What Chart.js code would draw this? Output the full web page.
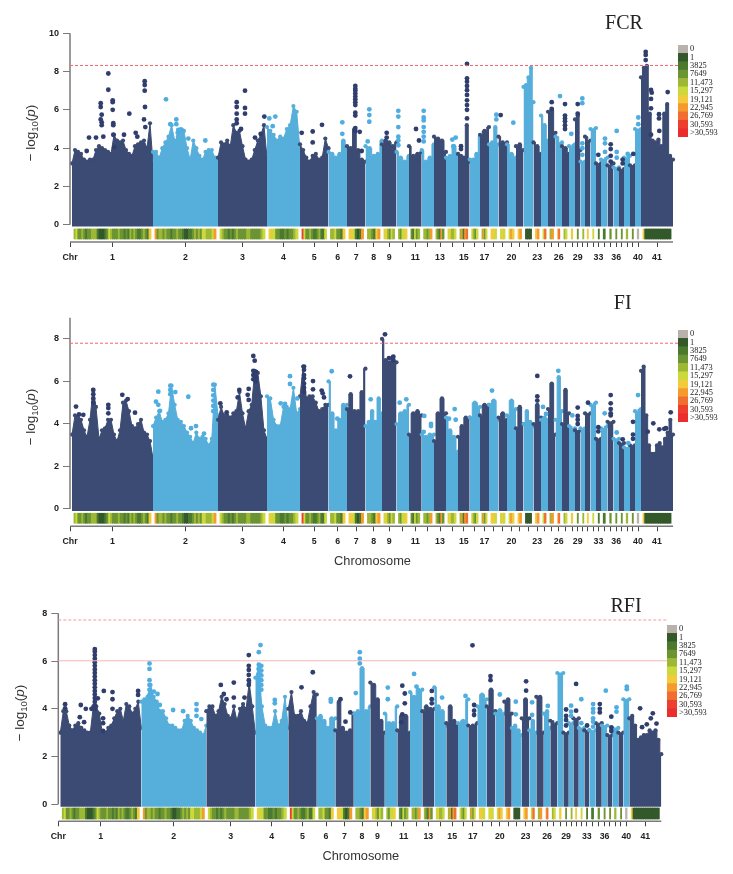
<!DOCTYPE html>
<html>
<head>
<meta charset="utf-8">
<title>Manhattan plots</title>
<script src="https://cdn.jsdelivr.net/npm/chart.js@4"></script>
<style>
html, body { margin: 0; padding: 0; background: #fff; }
body { position: relative; width: 733px; height: 874px; overflow: hidden; }
canvas { position: absolute; }
</style>
</head>
<body>
<canvas id="fcr" width="733" height="280" style="left:0px;top:0px"></canvas>
<canvas id="fi" width="733" height="285" style="left:0px;top:290px"></canvas>
<canvas id="rfi" width="733" height="289" style="left:0px;top:585px"></canvas>
<canvas id="legend1" width="55" height="92" style="left:678px;top:45px"></canvas>
<canvas id="legend2" width="55" height="92" style="left:678px;top:329.5px"></canvas>
<canvas id="legend3" width="55" height="92" style="left:667px;top:625px"></canvas>
<script>
const chromNames = ['1','2','3','4','5','6','7','8','9','10','11','12','13','14','15','16','17','18','19','20','21','22','23','24','25','26','27','28','29','30','31','32','33','34','35','36','37','38','39','40','41'];
const chromLengths = [81,65,49,33,28.5,18.5,18.5,16.5,14.5,12.5,12.7,12.3,12,12,11.7,10.3,9,9.5,8.5,9,7.5,10,7.5,7,7.5,6.5,7,6,5.5,4.5,5.5,5.5,5,6.5,6,5.5,5,6,5,6,32];
const shownLabels = ['1','2','3','4','5','6','7','8','9','11','13','15','17','20','23','26','29','33','36','40','41'];

const legendLabels = ['0','1','3825','7649','11,473','15,297','19,121','22,945','26,769','30,593','>30,593'];
const legendColours = ['#b9b1ab','#33592b','#4b7a2f','#6c9433','#9db835','#cbd93c','#f2cb3b','#f79a2e','#f06e2f','#ee3e2e','#ec2d2d'];

// legend class of each stretch of a chromosome
const densityBins = [
 '4533432334442111235433343323243432234326','7344343323343321122343435544457','5433232343333443333345','6553322323345','9533432234225','4453326','6652127','443267','564354','43556','32534','44347','43273','56445','47278','5435','4735','665','565','576','67','111','67','58','47','78','45','56','3','4','6','5','2','22','3','3','3','4','3','0','6111111111111111'
];

// silhouette of the solid mass, one list per chromosome
const fcrTops = [
 [3.2,3.9,3.8,3.7,3.4,3.3,3.4,3.4,3.9,4.1,4.0,3.9,3.8,3.7,4.7,4.4,4.3,4.4,3.9,3.7,3.6,4.1,4.2,4.3,4.4,4.0,5.3,3.2],
 [3.8,3.8,3.5,4.0,4.3,4.6,5.2,4.4,4.6,5.0,4.9,4.0,3.4,4.4,4.0,3.6,3.4,3.8,3.9,3.9,3.5,3.5],
 [3.5,4.3,4.2,4.4,4.1,5.2,4.8,4.9,4.1,3.4,3.3,3.4,3.9,4.4,4.7,5.2,3.5],
 [5.1,4.9,4.7,4.4,4.6,4.5,5.0,5.2,6.2,5.9,3.9],
 [4.2,3.9,3.5,3.3,3.6,3.7,3.4,3.5,4.5,4.0],
 [3.8,3.7,3.5,3.7,4.4,4.0],[4.1,4.0,5.0,3.9,3.4,3.3],[4.1,4.0,3.6,3.7,4.4],[4.2,4.4,4.3,4.1,4.3],[3.8,3.5,3.3,3.6],
 [4.1,3.6,3.7,3.8],[3.9,3.3,3.5,4.2],[4.6,4.5,4.4,3.8],[3.5,3.6,4.1,3.7],[3.7,3.6,3.5,5.2,3.3],[3.4,3.4,3.7,4.6],
 [4.7,4.9,5.1],[4.2,4.3,5.1,4.2],[4.6,4.3,4.3],[4.2,3.7,3.5],[4.1,4.2,3.9],[7.2,7.3,7.7,8.2,6.4],[4.3,4.1,3.7],
 [5.7,5.2,4.4],[5.9,6.0,4.8],[4.6,4.3],[4.1,4.0,3.7],[4.1,4.2],[5.5,5.7,3.9],[3.3,3.3],[4.6,4.4],[5.0,5.05],[3.2,3.2],
 [3.4,3.5],[3.1,3.2],[3.0,3.0],[2.9,2.9],[3.5,3.6],[3.1,3.1],[5.0,5.0],
 [7.7,8.2,8.3,5.8,4.4,4.3,4.45,4.1,5.8,6.3,3.6,3.4]
];
const fiTops = [
 [3.5,4.4,4.3,4.2,3.7,3.4,4.2,5.6,4.8,3.3,3.7,3.8,4.2,4.2,3.5,3.2,3.7,5.0,5.1,4.6,3.9,3.8,4.0,4.2,3.6,3.5,3.2,2.4],
 [3.9,4.3,4.6,4.1,4.2,4.5,5.8,4.9,4.2,4.1,3.9,3.6,3.4,3.1,3.6,3.3,3.4,3.3,3.0,3.3,5.85,4.4],
 [4.2,4.8,4.4,4.4,4.3,4.5,4.6,5.5,4.5,3.8,4.6,4.9,6.5,6.4,5.3,3.7,3.3],
 [5.3,5.2,4.2,3.9,3.9,4.8,4.8,4.7,5.7,4.5,4.7],
 [5.3,6.7,5.2,5.3,5.3,5.0,4.6,4.7,4.9,4.9],
 [6.0,4.5,3.7,4.2,4.9,4.9],[4.7,5.4,4.6,4.6,5.5,6.6],[3.9,4.1,4.6,4.1,5.2,4.5],[8.0,7.0,6.9,7.15,6.9],[4.0,4.5,4.6,4.9],
 [3.5,4.5,4.6,4.4],[3.5,3.4,3.5,3.5],[3.2,4.5,5.2,4.5],[4.3,3.7,3.4,2.7],[3.4,3.9,4.3,4.3],[4.3,5.0,4.8],
 [4.4,4.9,4.9],[4.9,5.1,4.2],[4.3,4.5,4.2],[4.4,5.1,4.7],[3.8,4.8,4.0],[4.0,4.6,4.1,3.9],[4.0,4.9,4.3],
 [4.2,4.3,4.2],[4.7,5.9,3.5],[4.2,6.2,4.6],[4.0,5.6,4.5],[3.9,3.8],[3.7,3.7],[3.8,3.8],[4.5,4.5],[4.9,5.0],[3.3,3.3],
 [3.8,3.9],[4.1,4.1],[3.3,3.3],[3.1,3.1],[2.9,2.9],[3.0,3.0],[4.6,4.7],
 [6.5,6.7,4.4,3.0,2.6,2.6,3.0,3.1,2.9,3.3,3.6,4.2,3.5]
];
const rfiTops = [
 [3.0,3.9,3.9,3.3,3.1,3.3,3.4,3.2,3.1,3.0,3.0,4.1,4.1,3.8,3.0,3.0,3.2,3.3,3.6,3.9,4.0,3.5,4.2,4.1,3.8,4.0,4.3,3.2],
 [4.3,4.4,4.5,5.0,4.5,4.3,3.9,3.9,3.6,3.3,3.3,3.2,3.1,3.1,3.5,3.7,3.5,3.2,3.1,3.0,2.9,3.3],
 [3.9,4.1,4.1,3.7,3.9,4.5,4.2,3.7,3.6,4.1,3.5,4.0,4.2,4.0,5.1,4.1,3.0],
 [5.3,5.7,4.1,3.3,3.2,3.2,3.9,3.3,3.5,4.5,3.2],
 [4.0,4.7,3.7,3.7,3.9,3.5,3.4,4.1,4.7,4.6],
 [3.6,3.7,3.5,3.2,3.6,3.6],[3.1,4.3,3.2,3.0,3.1,3.8],[3.8,3.9,5.7,3.9,4.1],[5.1,5.0,4.4,3.5,3.0],[3.8,3.4,3.4,4.1],
 [3.1,3.7,3.7,3.0],[4.7,4.5,4.8,4.8],[3.9,4.1,4.0,4.0],[4.9,4.1,3.9,3.3],[3.4,4.1,3.5,3.3],[3.4,3.5,4.4],
 [3.3,3.3,3.4],[4.1,4.6,4.4],[4.1,4.8,3.9],[3.8,3.95,3.8],[4.3,4.4,3.8],[3.2,3.3,3.1,2.9],[3.6,4.4,3.6],
 [3.1,3.5,3.0],[4.5,4.5,3.0],[3.8,3.9,3.2],[3.5,3.4],[5.5,5.5],[3.0,3.0],[3.4,3.4],[3.6,3.6],[3.2,3.2],[3.1,3.1],
 [3.1,3.1],[3.4,3.4],[3.3,3.3],[2.9,2.9],[3.2,3.2],[3.0,3.0],[4.4,4.4],
 [3.6,3.7,3.3,2.7,2.8,2.9,2.9,3.1,3.0,3.1,2.7,2.1]
];

// isolated points above the mass: [position, value, value...]
const fcrDots = [
 [36.3,7.9,7.05],[40.7,6.5,6.4,6.0],[28.7,6.35,6.15,5.5],[29.7,5.75,5.35,5.2],[41.3,5.3,5.2,4.7],[57.3,5.8],[52,4.7],[17,4.55],[24,4.55],[31.3,4.6],[63.7,4.8],[65.3,4.6],[72.7,7.5,7.3,7.0],[73,6.15],[72,5.5],[73.3,5.1],[14.7,3.85],[42.3,4.05],
 [94,6.55],[104.3,5.5,5.25],[98.3,5.25],[109.7,4.95],[106.3,4.95],[105.7,4.8],[116.3,4.5],[133.3,4.4],
 [164.7,6.4,6.15,5.8,5.5,5.3],[173,7.0,6.1,5.8],[192.3,5.65],[169,5.0],[183,4.55],[188.7,4.75],
 [197.3,5.55],[203.3,5.65],[200.7,5.15],[229.7,4.8],[240.7,4.87,4.3],[250,5.22],[270.3,5.35,4.75],
 [283.3,7.25,7.1,7.0,6.85,6.7,6.55,6.4,6.25,5.85,5.7,5.05,4.9],[287.7,4.85],[289.7,3.85],
 [297.3,6.03,5.73,5.38],[295.7,4.35],[314.7,4.8,4.55],[326.3,5.95,5.65,5.1,4.6,4.4,4.15],[344,5.0],[347,4.4],
 [351.7,5.95,5.6,5.45,5.1,4.85,4.6,4.35],[380.3,4.45],[383.7,4.55],[381.3,4.1],
 [395,8.4,7.65,7.47,7.25,7.03,6.78,6.5,6.25,6.0,5.55],[389,4.1,3.95],[424.3,5.75,5.5],[428.7,5.73],[441.3,5.33],
 [479.7,6.4,6.05],[488,6.72],[493,6.3,5.7,5.55,5.4,5.2,5.0],[499.3,4.75],[505.7,6.3,5.8],[510.3,6.6,6.35,4.25,4,3.65],
 [526.3,3.65],[533,4.5,4.25,3.8],[538.7,4.2,3.95,3.6,3.3],[544.7,4.9,3.8,3.5],[550.7,3.4,3.2],[555.7,3.7],[561.3,3.7],[566.3,5.6,5.25],
 [573.7,9.03,8.87,8.6],[579,7.04,6.57,6.08,4.7],[579.7,6.9],[587,5.77,5.55],[587.3,4.9],[595.7,6.93]
];
const fiDots = [
 [4,4.82],[50.3,5.37],[36.3,4.9,4.75,4.5],[63,4.53],[55.7,5.17],[7,4.45],[11.3,4.43],[21.3,5.6,5.4,5.2,5.0],
 [86.3,5.52,4.9],[84,5.05],[88,4.62],[103.3,5.5],[116.3,5.28],[124,3.9],[119,3.8],[132,3.55],[98.3,5.8,5.6,5.4],[141.3,5.85,5.6,5.35,5.1,4.85,4.6],
 [148.3,4.97],[154.7,4.55],[181.3,7.2,6.5,6.3,6.1],[182.7,6.98],[184,6.45,6.2,6.0],[176.7,5.65,5.13],[175.7,5.37],[167.3,5.6],[165.7,5.25],
 [218,6.25,5.88],[225.3,5.2],[208.7,4.97],[213,4.95],[232,6.7,6.55,6.3,6.15,5.9,5.7,5.5],[241,6.02,5.63],[249.7,5.57],[250.7,5.44],[252,5.25],
 [259.7,6.48],[265.3,4.25],[278,6.24],[298.7,5.16],[313,8.22],[321.3,7.17,7.0],[317,7.1],
 [327.7,5.0],[334.3,5.16],[352.3,4.38],[359,4.0,3.9],[351.7,3.63],[382.7,4.7],[383.7,4.2],[377,4.25],
 [420,5.57],[465.3,6.26,5.3,5.1],[471,4.8],[474,4.47],[486.3,6.5],[500.3,4.4],[505.7,4.77,4.38,4.2,4.0],
 [516,5.0],[526.3,3.85,3.65],[532.7,4.5],[538.7,5.36,4.97,4.7,4.5,4.4],[544.7,3.6],[550.7,3.28],[556.3,3.1],[561,4.1,3.5,3.3],[566,5.36],
 [581.3,4.03],[587.3,3.75],[592.3,3.77],[594,3.8],[598.7,4.55],[575.7,3.64]
];
const rfiDots = [
 [4.8,4.19,4.02],[20.5,4.16],[25.5,4.0],[31.2,4.0],[19.5,3.65],[23.8,3.44],[43.5,4.75],[52.2,4.7,4.4,4.0],[42.8,3.6,3.4,3.07],[77.8,4.75,4.58],[37.5,4.44],
 [34.5,6.5,6.4,6.25,6.1,5.95,5.8,5.65,5.5,5.35,5.2,5.05,4.9,4.75,4.6,4.45,4.3,4.15,4.0],
 [89.2,5.9,5.67,5.2,5,4.8,4.58],[93.5,4.72],[97.2,4.62],[99.5,4.16],[112.8,3.95],[122.8,3.9],[136.2,4.2,3.95,3.7],[141,3.57],
 [160.5,5.0],[163.5,4.62],[166.2,4.4],[173.5,5.1,4.47],[184.2,4.47],[188.5,6.25,5.8,5.63,5.42,5.2,5.0],
 [200.2,6.67],[198.5,6.37,5.85,5.65,5.45,5.25,5.05,4.85,4.65],[201,5.8,5.6,5.4,5.2,5.0,4.8],[214.5,4.37,4.23],[241.2,4.9],[252.5,5.53],[270.5,4.4,4.3],[280.2,4.4],[285.2,3.46],[290,3.85],
 [295.5,4.66],[299.5,6.37,6.1,5.9],[327.5,4.89,4.4],[342,4.97,3.77],[344.5,4.64,4.23],[341,3.44],[353.8,5.46],[356.2,4.93],[371.5,4.75,4.4,4.23],[381.8,4.47],[405.2,4.54],
 [412.2,6.66],[413.8,4.16,3.92,3.74],[430.2,5.37,5.2],[439.5,4.6],[455.5,4.3,3.77],[465.8,5.15,4.76],[471.8,4.27,3.74],[487.5,4.12],
 [505.8,3.97,3.7,3.53,3.3],[510.8,4.13,3.88,3.7],[515.8,5.04,3.92],[521,4.4,3.4],[526.8,3.3],[532.8,4.2,4,3.85,3.6,3.46,3.25],[539.5,4.2,4,3.85],[545.5,4.76],[551,3.67,3.22,3.07],[556.2,4.06,3.88],[566.5,4.93,4.82],
 [579.8,4.02],[581.8,3.23],[586.5,3.35],[592.5,3.81],[590.5,3.6],[596.2,3.38]
];

const fcrTicks = [0,2,4,6,8,10];
const fiTicks = [0,2,4,6,8];
const rfiTicks = [0,2,4,6,8];

const darkBlue = '#3c4b73';
const lightBlue = '#56aedb';
const dotDark = '#303e6e';
const dotLight = '#4fade0';
const axisGrey = '#7a7a7a';
const sans = '"Liberation Sans", Arial, sans-serif';
const serif = '"Liberation Serif", "Times New Roman", serif';

let chromStarts = [];
let pos = 0;
for (let i = 0; i < chromLengths.length; i++) {
    chromStarts[i] = pos;
    pos += chromLengths[i];
}

function chromAt(x) {
    let idx = 0;
    for (let i = 0; i < chromStarts.length; i++) {
        if (x >= chromStarts[i]) idx = i;
    }
    return idx;
}

// tick labels must not push the plot area inwards
function noScalePadding(scale) {
    scale.paddingTop = 0;
    scale.paddingBottom = 0;
    scale.paddingLeft = 0;
    scale.paddingRight = 0;
}

const textPlugin = {
    id: 'panelText',
    afterDraw(chart, args, opts) {
        const ctx = chart.ctx;
        ctx.save();
        ctx.fillStyle = '#222';
        ctx.font = '20px ' + serif;
        ctx.textAlign = 'center';
        ctx.textBaseline = 'middle';
        ctx.fillText(opts.title, opts.titleX, opts.titleY);

        // y axis title, written piece by piece for the subscript and italic p
        ctx.translate(opts.yTitleX, opts.yTitleY);
        ctx.rotate(-Math.PI / 2);
        ctx.fillStyle = '#333';
        ctx.textAlign = 'left';
        ctx.textBaseline = 'alphabetic';
        const pieces = [
            ['\u2212 log', '13.5px ' + sans, 0],
            ['10', '9.5px ' + sans, 3],
            ['(', '13.5px ' + sans, 0],
            ['p', 'italic 13.5px ' + sans, 0],
            [')', '13.5px ' + sans, 0]
        ];
        let total = 0;
        pieces.forEach(p => { ctx.font = p[1]; total += ctx.measureText(p[0]).width; });
        let cx = -total / 2;
        pieces.forEach(p => {
            ctx.font = p[1];
            ctx.fillText(p[0], cx, 5 + p[2]);
            cx += ctx.measureText(p[0]).width;
        });
        ctx.restore();
    }
};

function drawPanel(id, tops, dots, yTicks, o) {
    let datasets = [];

    // thresholds on top of everything
    o.lines.forEach(l => {
        datasets.push({
            type: 'line', clip: false, pointRadius: 0, borderWidth: 1, borderColor: l.color,
            borderDash: l.dash, fill: false,
            data: [{x: -2, y: l.y}, {x: o.lineEnd, y: l.y}]
        });
    });

    datasets.push({
        type: 'line', clip: false, pointRadius: 0, borderWidth: 1.5, borderColor: axisGrey, fill: false,
        data: [{x: -2, y: 0}, {x: -2, y: o.yMax}]
    });
    datasets.push({
        type: 'line', clip: false, pointRadius: 0, borderWidth: 1.5, borderColor: axisGrey, fill: false,
        data: [{x: -2, y: o.yMin}, {x: 601, y: o.yMin}]
    });

    let darkPts = [];
    let lightPts = [];
    dots.forEach(d => {
        for (let k = 1; k < d.length; k++) {
            (chromAt(d[0]) % 2 == 0 ? darkPts : lightPts).push({x: d[0], y: d[k]});
        }
    });
    datasets.push({type: 'scatter', clip: false, data: darkPts, pointRadius: 2.4, pointBorderWidth: 0, pointBackgroundColor: dotDark});
    datasets.push({type: 'scatter', clip: false, data: lightPts, pointRadius: 2.4, pointBorderWidth: 0, pointBackgroundColor: dotLight});

    // density strip below the mass
    densityBins.forEach((bins, c) => {
        const inset = chromLengths[c] < 7 ? 2.3 : 2;
        const from = chromStarts[c] + inset;
        const width = Math.max(chromLengths[c] - 2 * inset, 1);
        const step = width / bins.length;
        let strip = [];
        let colours = [];
        for (let i = 0; i < bins.length; i++) {
            strip.push({x: from + (i + 0.5) * step, y: [o.stripLow, o.stripHigh]});
            colours.push(legendColours[parseInt(bins[i], 16)]);
        }
        datasets.push({type: 'bar', clip: false, grouped: false, barThickness: step + 0.2, data: strip, backgroundColor: colours});
    });

    // later chromosomes are drawn over earlier ones
    for (let c = tops.length - 1; c >= 0; c--) {
        const colour = c % 2 == 0 ? darkBlue : lightBlue;
        const vals = tops[c];
        let pts = [];
        for (let i = 0; i < vals.length; i++) {
            pts.push({x: chromStarts[c] + i * chromLengths[c] / (vals.length - 1), y: vals[i]});
        }
        datasets.push({
            type: 'line', clip: false, stepped: c < 5 ? false : 'middle', data: pts,
            borderColor: colour, borderWidth: 1, backgroundColor: colour,
            pointRadius: 2.1, pointBorderWidth: 0, pointBackgroundColor: colour,
            fill: {value: -0.1}
        });
    }

    new Chart(document.getElementById(id), {
        type: 'line',
        data: {datasets: datasets},
        plugins: [textPlugin],
        options: {
            responsive: false,
            animation: false,
            events: [],
            layout: {autoPadding: false, padding: {top: o.top, left: 0, right: 733 - o.left - 605, bottom: 0}},
            plugins: {
                legend: {display: false},
                tooltip: {enabled: false},
                panelText: o.text
            },
            scales: {
                x: {
                    type: 'linear', min: -2, max: 603, offset: false,
                    border: {display: false},
                    grid: {drawOnChartArea: false, offset: false, tickLength: 5, color: '#444', lineWidth: 1},
                    afterBuildTicks: scale => {
                        let t = [{value: -2}];
                        chromStarts.forEach((s, i) => t.push({value: s + chromLengths[i] / 2}));
                        scale.ticks = t;
                    },
                    afterFit: scale => { scale.height = o.xHeight; noScalePadding(scale); },
                    ticks: {
                        autoSkip: false, maxRotation: 0, minRotation: 0, padding: 5, color: '#222',
                        font: {family: sans, size: 8.8, weight: 'bold'},
                        callback: (v, i) => {
                            if (i == 0) return 'Chr';
                            return shownLabels.includes(chromNames[i - 1]) ? chromNames[i - 1] : '';
                        }
                    },
                    title: {
                        display: o.xTitle, text: 'Chromosome', color: '#333',
                        font: {family: sans, size: 12.8}, padding: {top: 0, bottom: o.xTitlePad}
                    }
                },
                y: {
                    type: 'linear', min: o.yMin, max: o.yMax,
                    border: {display: false},
                    grid: {drawOnChartArea: false, tickLength: 7, color: axisGrey, lineWidth: 1},
                    afterBuildTicks: scale => { scale.ticks = yTicks.map(v => ({value: v})); },
                    afterFit: scale => { scale.width = o.left; noScalePadding(scale); },
                    ticks: {
                        padding: 4, color: '#222', autoSkip: false,
                        font: {family: sans, size: 9, weight: 'bold'},
                        callback: v => String(v)
                    }
                }
            }
        }
    });
}

function drawLegend(id) {
    new Chart(document.getElementById(id), {
        type: 'bar',
        data: {
            labels: legendLabels,
            datasets: [{
                data: legendLabels.map(() => 1),
                backgroundColor: legendColours,
                barPercentage: 1,
                categoryPercentage: 1
            }]
        },
        options: {
            indexAxis: 'y',
            responsive: false,
            animation: false,
            events: [],
            layout: {autoPadding: false},
            plugins: {legend: {display: false}, tooltip: {enabled: false}},
            scales: {
                x: {display: false, min: 0, max: 1},
                y: {
                    position: 'right',
                    border: {display: false},
                    grid: {display: false, drawTicks: false},
                    afterFit: scale => { scale.width = 45; noScalePadding(scale); },
                    ticks: {autoSkip: false, padding: 2, color: '#222', font: {family: serif, size: 8.4}}
                }
            }
        }
    });
}

drawPanel('fcr', fcrTops, fcrDots, fcrTicks, {
    top: 33.3, left: 70, xHeight: 38, yMin: -0.904, yMax: 10,
    stripLow: -0.747, stripHigh: -0.225, lineEnd: 608, xTitle: false, xTitlePad: 0,
    lines: [{y: 8.32, color: '#f0646c', dash: [3, 2]}],
    text: {title: 'FCR', titleX: 624, titleY: 24, yTitleX: 30, yTitleY: 133}
});
drawPanel('fi', fiTops, fiDots, fiTicks, {
    top: 27.7, left: 70, xHeight: 48.7, yMin: -0.814, yMax: 9,
    stripLow: -0.67, stripHigh: -0.2, lineEnd: 606, xTitle: true, xTitlePad: 5.6,
    lines: [{y: 7.8, color: '#f0646c', dash: [3, 2]}],
    text: {title: 'FI', titleX: 622.7, titleY: 14, yTitleX: 30, yTitleY: 127}
});
drawPanel('rfi', rfiTops, rfiDots, rfiTicks, {
    top: 28.3, left: 58.3, xHeight: 52.7, yMin: -0.712, yMax: 8,
    stripLow: -0.615, stripHigh: -0.155, lineEnd: 606.5, xTitle: true, xTitlePad: 9.6,
    lines: [{y: 7.72, color: '#f59a9a', dash: [3, 2]}, {y: 6.01, color: '#f6b4b4', dash: []}],
    text: {title: 'RFI', titleX: 626, titleY: 22, yTitleX: 19, yTitleY: 128}
});
drawLegend('legend1');
drawLegend('legend2');
drawLegend('legend3');
</script>
</body>
</html>
